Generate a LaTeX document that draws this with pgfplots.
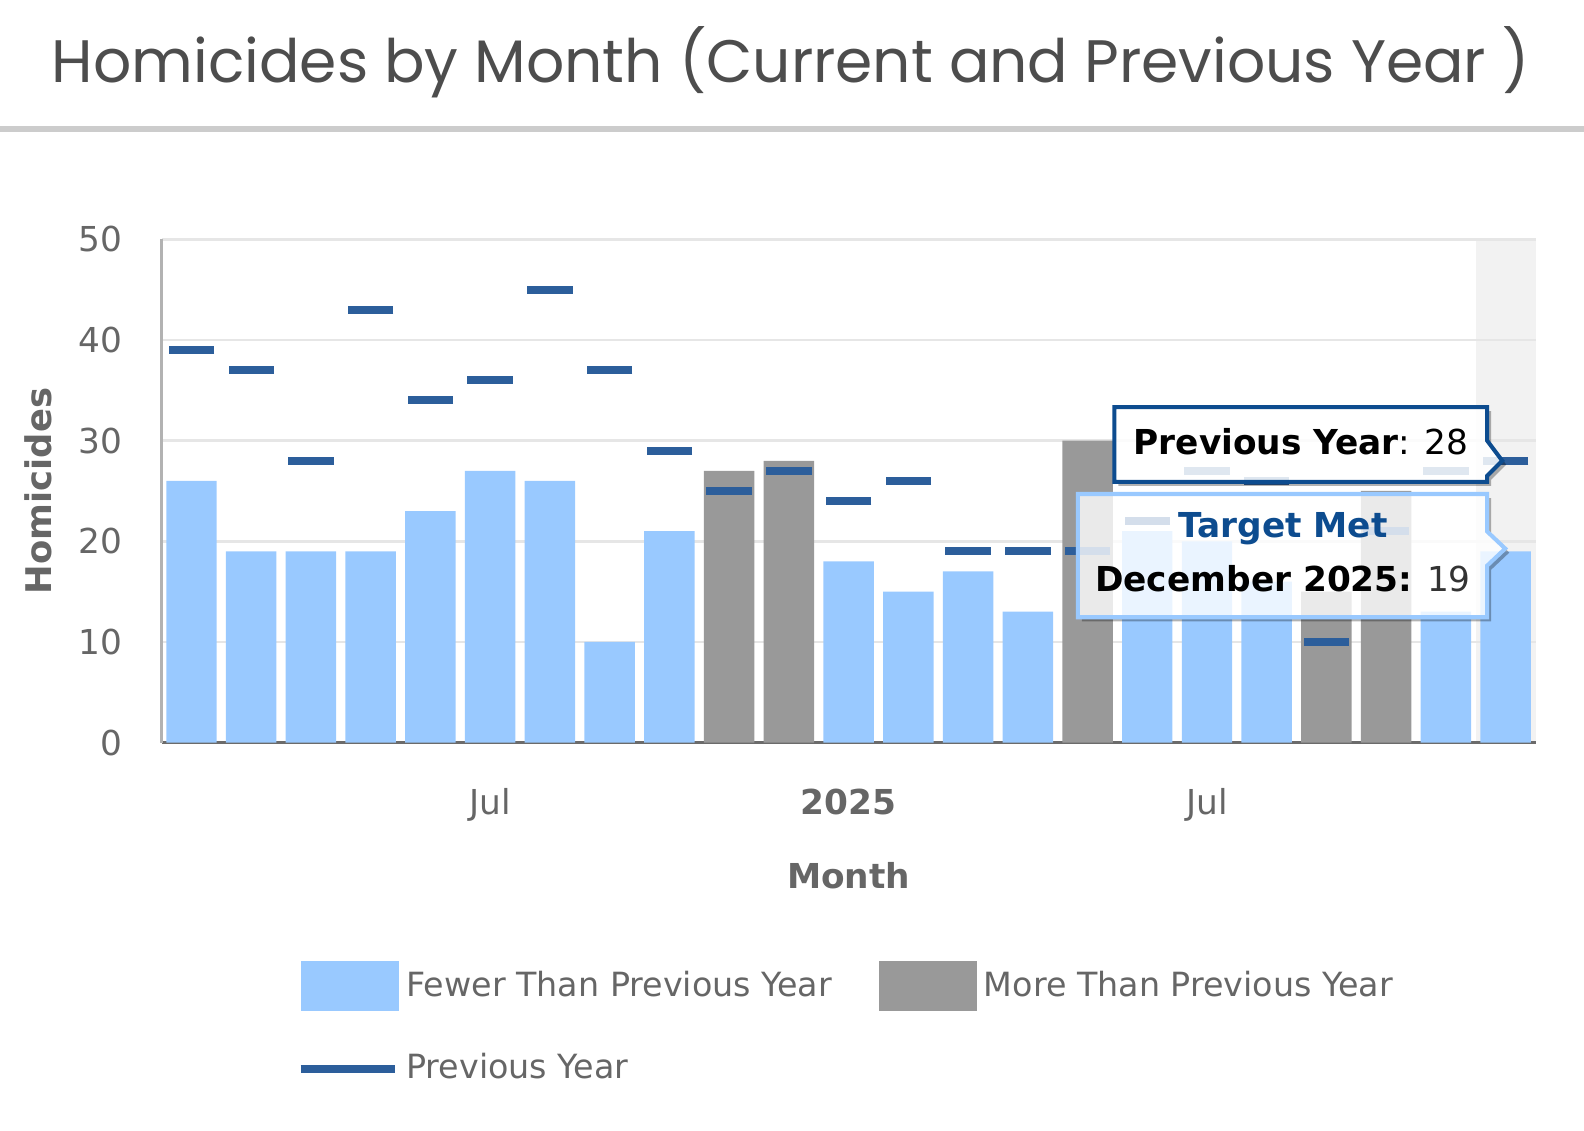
\documentclass[border=0pt]{standalone}
\usepackage{fontspec}
\setmainfont{DejaVu Sans}
\newfontfamily\titlefont{Poppins}
\usepackage{pgfplots}
\pgfplotsset{compat=1.18}
\definecolor{lb}{HTML}{99C9FF}
\definecolor{gb}{HTML}{999999}
\definecolor{mk}{HTML}{2C5E9B}
\definecolor{tx}{HTML}{666666}
\definecolor{dk}{HTML}{0D4C8F}
\definecolor{ttl}{HTML}{4D4D4D}
\definecolor{rule}{HTML}{CCCCCC}
\definecolor{gridc}{HTML}{E6E6E6}
\definecolor{hl}{HTML}{F2F2F2}

\pgfplotstableread{
x y
0 26
1 19
2 19
3 19
4 23
5 27
6 26
7 10
8 21
11 18
12 15
13 17
14 13
16 21
17 20
18 16
21 13
22 19
}\fewer
\pgfplotstableread{
x y
9 27
10 28
15 30
19 15
20 25
}\more
\pgfplotstableread{
x y
0 39
1 37
2 28
3 43
4 34
5 36
6 45
7 37
8 29
9 25
10 27
11 24
12 26
13 19
14 19
15 19
16 22
17 27
18 26
19 10
20 21
21 27
22 28
}\prev

\begin{document}
\begin{tikzpicture}
\node[font=\titlefont\fontsize{17.8}{21}\selectfont, text=ttl] at (234.8pt,-18.6pt) {Homicides by Month (Current and Previous Year )};
\draw[line width=1.8pt, rule] (0,-38.4pt) -- (470.4pt,-38.4pt);

\begin{axis}[
  at={(48pt,-220.5pt)}, anchor=south west, scale only axis,
  width=408pt, height=149.4pt,
  xmin=-0.5, xmax=22.5, ymin=0, ymax=50,
  set layers,
  axis lines=left,
  axis line style={-},
  x axis line style={color=black!58, line width=0.9pt},
  y axis line style={color=black!30, line width=0.9pt},
  ymajorgrids, grid style={gridc, line width=0.75pt},
  major tick length=0pt,
  ytick={0,10,20,30,40,50},
  /pgf/number format/assume math mode=true,
  xtick={5,11,17}, xticklabels={Jul,\textbf{2025},Jul},
  ticklabel style={font=\fontsize{10.2}{12}\selectfont, text=tx},
  yticklabel style={inner sep=0pt, anchor=east, xshift=-11.4pt},
  xticklabel style={inner sep=0pt, anchor=north, yshift=-13.5pt},
  ylabel={Homicides}, xlabel={Month},
  every axis y label/.style={at={(axis description cs:-0.0897,0.5)}, rotate=90, anchor=center, font=\bfseries\fontsize{10.5}{12}\selectfont, text=tx},
  every axis x label/.style={at={(axis description cs:0.5,-0.265)}, anchor=center, font=\bfseries\fontsize{10.2}{12}\selectfont, text=tx},
  legend columns=2,
  legend style={at={(axis description cs:0.0978,-0.4337)}, anchor=north west, draw=none, fill=none, inner sep=0pt,
    font=\fontsize{9.9}{12}\selectfont, text=tx,
    nodes={inner sep=0pt},
    /tikz/every odd column/.append style={column sep=2.2pt},
    /tikz/every even column/.append style={column sep=13.8pt},
    row sep=12.7pt},
  legend cell align=left,
]
\addplot[fill=hl, draw=none, on layer=axis background, forget plot] coordinates {(21.5,0) (22.5,0) (22.5,50) (21.5,50)} -- cycle;
\addplot[ybar, bar width=0.845, bar shift=0pt, fill=lb, draw=none,
  legend image code/.code={\fill[lb] (0pt,-7.35pt) rectangle (29.1pt,7.35pt);}] table[x=x,y=y] {\fewer};
\addlegendentry{Fewer Than Previous Year}
\addplot[ybar, bar width=0.845, bar shift=0pt, fill=gb, draw=none,
  legend image code/.code={\fill[gb] (0pt,-7.35pt) rectangle (29.1pt,7.35pt);}] table[x=x,y=y] {\more};
\addlegendentry{More Than Previous Year}
\addplot[only marks, mark=-, mark size=6.75pt, mark options={line width=2.4pt, draw=mk},
  legend image code/.code={\draw[mk, line width=2.4pt] (0pt,0pt) -- (28pt,0pt);}] table[x=x,y=y] {\prev};
\addlegendentry{Previous Year}
\end{axis}

\begin{scope}[x=0.3pt, y=-0.3pt]
% tooltip 1
\begin{scope}[even odd rule]
\clip (1000,380) rectangle (1560,640) (1103,403) -- (1472,403) -- (1472,436) -- (1487,456) -- (1472,471) -- (1472,477) -- (1103,477) -- cycle;
\fill[black, opacity=0.3] (1107,407) -- (1476,407) -- (1476,440) -- (1491,460) -- (1476,475) -- (1476,481) -- (1107,481) -- cycle;
\end{scope}
\filldraw[fill=white, fill opacity=0.85, draw=dk, line width=1.2pt, line join=miter] (1103,403) -- (1472,403) -- (1472,436) -- (1487,456) -- (1472,471) -- (1472,477) -- (1103,477) -- cycle;
\node[font=\fontsize{10.2}{12}\selectfont, text=black] at (1288,437) {\textbf{Previous Year}: 28};
% tooltip 2
\begin{scope}[even odd rule]
\clip (1000,380) rectangle (1560,640) (1067,489) -- (1472,489) -- (1472,526) -- (1490,543) -- (1472,560) -- (1472,611) -- (1067,611) -- cycle;
\fill[black, opacity=0.3] (1071,493) -- (1476,493) -- (1476,530) -- (1494,547) -- (1476,564) -- (1476,615) -- (1071,615) -- cycle;
\end{scope}
\filldraw[fill=white, fill opacity=0.8, draw=lb, line width=1.2pt, line join=miter] (1067,489) -- (1472,489) -- (1472,526) -- (1490,543) -- (1472,560) -- (1472,611) -- (1067,611) -- cycle;
\node[font=\bfseries\fontsize{10.2}{12}\selectfont, text=dk] at (1270,523) {Target Met};
\node[font=\fontsize{10.2}{12}\selectfont, text=black] at (1270,573) {\textbf{December 2025:} \textcolor{black!80}{19}};
\end{scope}
\pgfresetboundingbox
\path[use as bounding box] (0,0) rectangle (470.4pt,-335.6pt);
\end{tikzpicture}
\end{document}
